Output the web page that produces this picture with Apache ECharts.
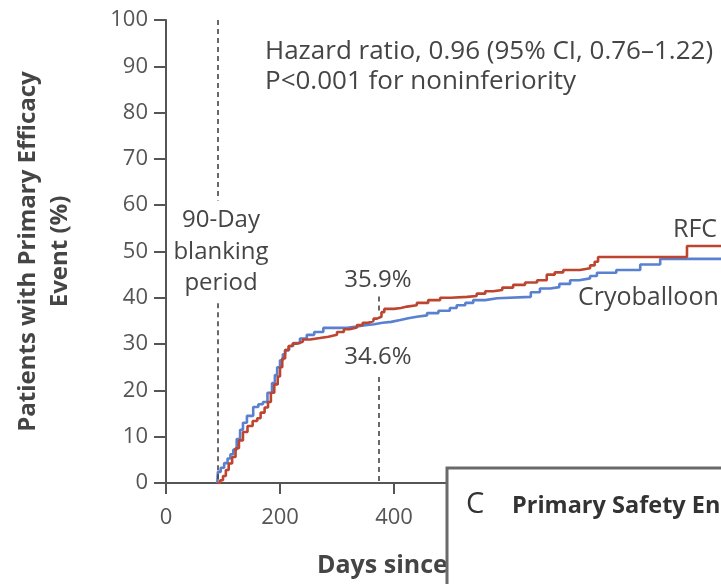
<!DOCTYPE html>
<html><head><meta charset="utf-8">
<script src="https://cdn.jsdelivr.net/npm/echarts@6/dist/echarts.min.js"></script>
<style>html,body{margin:0;padding:0;background:#fff}#c{width:721px;height:584px}</style>
</head><body><div id="c"></div>
<script>
// ---- data (days since procedure, cumulative %) ----
const rfcDays = [90,95,100,105,110,116,122,128,135,143,152,160,166,173,179,184,190,196,200,204,209,215,222,230,240,253,270,285,300,312,322,335,345,355,364,370,378,383,400,412,423,440,460,481,500,528,545,560,574,590,609,630,651,668,682,697,726,744,752,758,914,990];
const rfcPct  = [0,0.6,1.5,2.8,4.2,5.6,7.5,9.2,11,12.3,13.4,14,15.2,16.3,17.5,19.5,21.3,23,25,26.9,28.7,29.6,30.1,30.5,31,31.3,31.6,32,32.6,33.2,33.6,34.1,34.6,35,35.5,35.9,36.9,37.6,37.8,38.1,38.4,38.9,39.5,40,40.2,40.4,40.9,41.4,41.7,42.2,42.8,43.3,43.8,45,45.5,46,46.4,47,47.8,48.8,51.2,51.2];
const cryoDays = [90,91,96,102,108,113,118,124,130,135,142,153,162,170,178,186,191,195,200,205,209,216,223,235,247,260,276,305,320,335,350,365,380,395,411,425,440,458,478,498,510,525,539,560,581,640,656,674,690,709,725,744,756,790,832,867,990];
const cryoPct  = [0,2.4,3.3,4.3,5.3,6.2,7.2,9.5,11.5,13,14.5,16.4,17,17.5,19.5,21.6,23.3,25,26.5,27.8,28.7,29.6,30.2,31.2,32,32.6,33.5,33.6,33.8,34.1,34.3,34.6,34.8,35.2,35.6,35.9,36.2,36.7,37.2,37.8,38.4,38.9,39.5,39.9,40.2,41.2,42,42.3,43,43.8,44.2,44.7,45.4,46,47.2,48.4,48.4];
const yTicks = [0,10,20,30,40,50,60,70,80,90,100];
const xTicks = [0,200,400,600,800,1000];
const blankingDay = 90;
const oneYearDay = 373;
const rfcOneYear = '35.9%';
const cryoOneYear = '34.6%';

const FONT = '"Open Sans"';
const TXT = '#454545';
const chart = echarts.init(document.getElementById('c'), null, {renderer:'canvas'});
const zip = (a,b)=>a.map((v,i)=>[v,b[i]]);
const dash = {type:[5,4], color:'#444', width:1.6};
const T = (x,y,text,font,extra)=>({type:'text', x:x, y:y, style:Object.assign({text:text, font:font, fill:TXT, verticalAlign:'middle'}, extra||{})});
chart.setOption({
  animation:false,
  grid:{left:166, top:20, width:570, height:463, containLabel:false, outerBoundsMode:'none'},
  xAxis:{type:'value', min:0, max:1000, interval:200,
    axisLine:{lineStyle:{color:'#555', width:2}},
    axisTick:{length:11, lineStyle:{color:'#555', width:2}},
    axisLabel:{fontFamily:FONT, fontSize:22, color:'#555', margin:24},
    splitLine:{show:false}},
  yAxis:{type:'value', min:0, max:100, interval:10,
    axisLine:{show:true, lineStyle:{color:'#555', width:2}},
    axisTick:{show:true, length:12, lineStyle:{color:'#555', width:2}},
    axisLabel:{fontFamily:FONT, fontSize:22, color:'#555', margin:18},
    splitLine:{show:false},
    name:'Patients with Primary Efficacy\nEvent (%)', nameLocation:'middle', nameGap:90, nameRotate:90,
    nameTextStyle:{fontFamily:FONT, fontSize:24, fontWeight:'bold', color:TXT, lineHeight:32, align:'center'}},
  series:[
    {type:'line', name:'Cryoballoon', data:zip(cryoDays,cryoPct), step:'end', symbol:'none',
     lineStyle:{color:'#5a80d0', width:2.6}, z:2,
     markLine:{silent:true, symbol:'none', label:{show:false}, lineStyle:dash,
       data:[
         [{coord:[blankingDay,100]},{coord:[blankingDay,61]}],
         [{coord:[blankingDay,38.8]},{coord:[blankingDay,0]}],
         [{coord:[oneYearDay,40.3]},{coord:[oneYearDay,36.4]}],
         [{coord:[oneYearDay,22.9]},{coord:[oneYearDay,0]}]
       ]}},
    {type:'line', name:'RFC', data:zip(rfcDays,rfcPct), step:'end', symbol:'none',
     lineStyle:{color:'#bd4530', width:2.6}, z:3}
  ],
  graphic:[
    T(265, 67, 'Hazard ratio, 0.96 (95% CI, 0.76\u20131.22)\nP<0.001 for noninferiority', '26px '+FONT, {lineHeight:30}),
    T(221, 252, '90-Day\nblanking\nperiod', '24px '+FONT, {lineHeight:31.5, align:'center'}),
    T(378, 280, rfcOneYear, '24px '+FONT, {align:'center'}),
    T(378, 357, cryoOneYear, '24px '+FONT, {align:'center'}),
    T(673, 230, 'RFC', '25px '+FONT),
    T(578, 298, 'Cryoballoon', '25px '+FONT),
    T(317, 566, 'Days since Index Procedure', 'bold 25px '+FONT),
    {type:'rect', z:50, shape:{x:447, y:468, width:320, height:160}, style:{fill:'#fff', stroke:'#6a6a6a', lineWidth:3}},
    Object.assign(T(466, 505, 'C', '29px '+FONT, {fill:'#333'}), {z:51}),
    Object.assign(T(512, 506, 'Primary Safety End Point', 'bold 23.5px '+FONT, {fill:'#333'}), {z:51})
  ]
});
</script></body></html>
